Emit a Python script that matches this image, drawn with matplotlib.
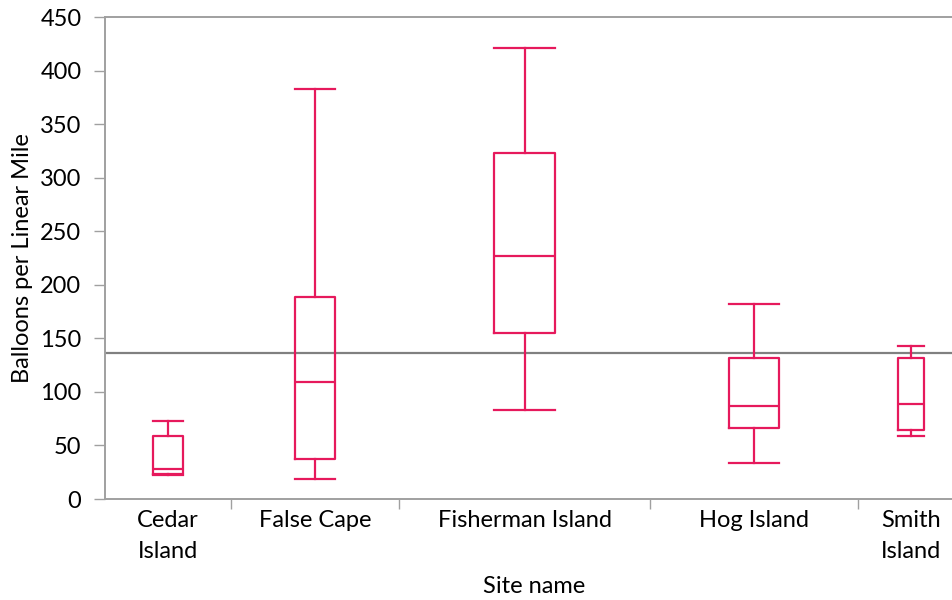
import numpy as np
import matplotlib
matplotlib.use("Agg")
import matplotlib.pyplot as plt

plt.rcParams['font.family'] = ['Lato', 'DejaVu Sans']

# Site names and box-plot summaries (balloons per linear mile)
sites = ["Cedar\nIsland", "False Cape", "Fisherman Island", "Hog Island", "Smith\nIsland"]
whisker_low = [22.5, 19, 83, 34, 59]
quartile_1 = [23.5, 37, 155, 66, 64]
medians = [28, 109, 227, 87, 89]
quartile_3 = [59, 189, 323, 132, 132]
whisker_high = [73, 383, 421, 182, 143]
grand_mean = 136

# Relative width of each site's column on the x axis
site_widths = [126, 168, 252, 208, 106]

box_color = '#E6195C'
axis_gray = '#a0a0a0'

edges = np.concatenate([[0], np.cumsum(site_widths)])
centers = (edges[:-1] + edges[1:]) / 2
box_w = 0.24 * np.array(site_widths)

fig = plt.figure(figsize=(9.52, 6.0), dpi=100)
ax = fig.add_axes([105 / 952, 1 - 499 / 600, (964 - 105) / 952, (499 - 17) / 600])

stats = []
for i in range(len(sites)):
    stats.append(dict(whislo=whisker_low[i], q1=quartile_1[i], med=medians[i],
                      q3=quartile_3[i], whishi=whisker_high[i], fliers=[]))

props = dict(color=box_color, linewidth=1.6)
ax.bxp(stats, positions=centers, widths=box_w, showfliers=False,
       boxprops=props, whiskerprops=props, capprops=props, medianprops=props,
       capwidths=box_w, manage_ticks=False)

ax.axhline(grand_mean, color='#808080', linewidth=1.6, zorder=1)

ax.set_xlim(edges[0], edges[-1])
ax.set_ylim(0, 450)
ax.set_yticks(np.arange(0, 451, 50))

ax.set_xticks(centers)
ax.set_xticklabels(sites, fontsize=17, linespacing=1.6)
ax.tick_params(axis='x', which='major', length=0, pad=8)
ax.set_xticks(edges[1:-1], minor=True)
ax.tick_params(axis='x', which='minor', length=7, color=axis_gray, width=1)
ax.tick_params(axis='y', length=8, color=axis_gray, width=1, labelsize=17, pad=9)

for side in ['left', 'bottom', 'top']:
    ax.spines[side].set_color(axis_gray)
    ax.spines[side].set_linewidth(1.4)
ax.spines['right'].set_visible(False)

ax.set_ylabel("Balloons per Linear Mile", fontsize=17, labelpad=5)
ax.set_xlabel("Site name", fontsize=17, labelpad=10)

fig.savefig("out.png", dpi=100)
